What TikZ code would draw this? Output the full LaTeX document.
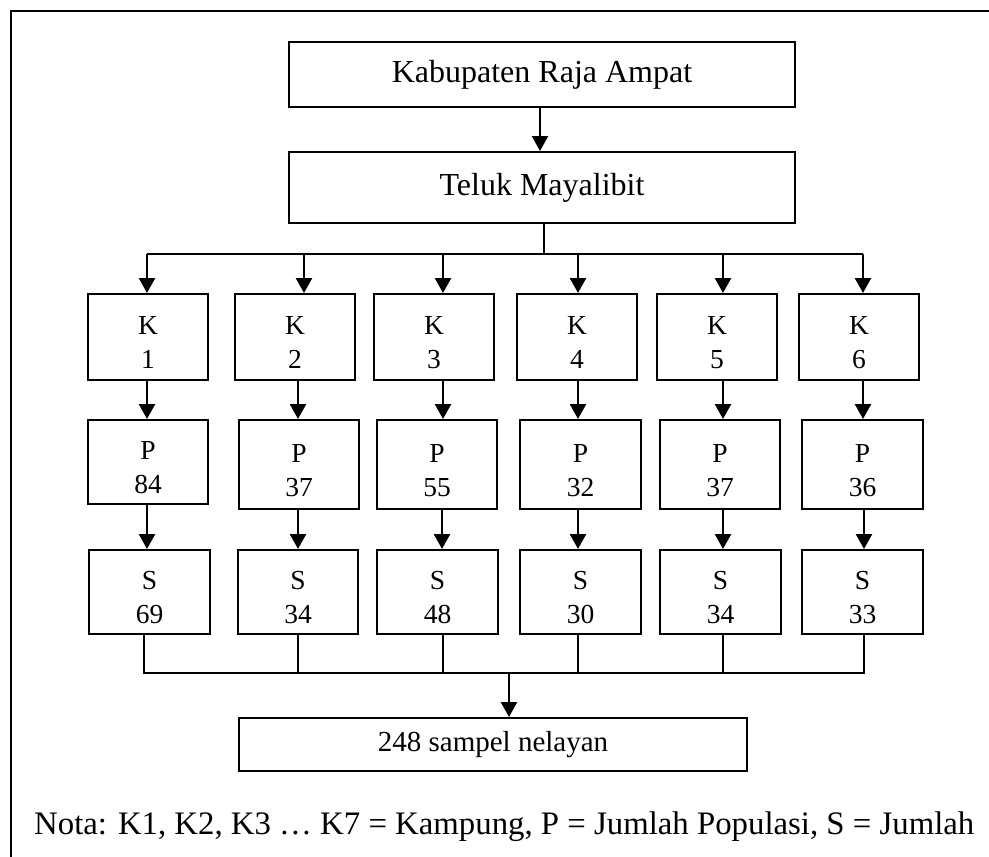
\documentclass[tikz,border=0pt]{standalone}
\usepackage{fontspec}
\setmainfont{Liberation Serif}
\usetikzlibrary{arrows.meta}
\newcommand{\twoline}[2]{\raisebox{-8pt}[\height][\depth]{\begin{tabular}{@{}c@{}}#1\\#2\end{tabular}}}
\begin{document}
\begin{tikzpicture}[x=1pt,y=-1pt,
  box/.style={draw,line width=2pt,inner sep=0pt,align=center},
  bigbox/.style={box,font=\fontsize{32}{38}\selectfont},
  colbox/.style={box,font=\fontsize{27.5}{34}\selectfont},
  arr/.style={line width=2.5pt,-{Triangle[width=16pt,length=15pt]}},
  ln/.style={line width=2.5pt},
  thin/.style={line width=1.7pt}]
\useasboundingbox (0,0) rectangle (989,857);
\draw[line width=2.6pt] (11,857) -- (11,11) -- (989,11);
% top boxes
\node[bigbox,minimum width=506pt,minimum height=65pt] (top) at (542,74.5) {Kabupaten Raja Ampat};
\node[bigbox,minimum width=506pt,minimum height=71pt] (teluk) at (542,187.5) {Teluk Mayalibit};
% K row
\node[colbox,minimum width=120pt,minimum height=86pt] (K1) at (148,337) {\twoline{K}{1}};
\node[colbox,minimum width=120pt,minimum height=86pt] (K2) at (295,337) {\twoline{K}{2}};
\node[colbox,minimum width=120pt,minimum height=86pt] (K3) at (434,337) {\twoline{K}{3}};
\node[colbox,minimum width=120pt,minimum height=86pt] (K4) at (577,337) {\twoline{K}{4}};
\node[colbox,minimum width=120pt,minimum height=86pt] (K5) at (717,337) {\twoline{K}{5}};
\node[colbox,minimum width=120pt,minimum height=86pt] (K6) at (859,337) {\twoline{K}{6}};
% P row
\node[colbox,minimum width=120pt,minimum height=84pt] (P1) at (148,462) {\twoline{P}{84}};
\node[colbox,minimum width=120pt,minimum height=89pt] (P2) at (299,464.5) {\twoline{P}{37}};
\node[colbox,minimum width=120pt,minimum height=89pt] (P3) at (437,464.5) {\twoline{P}{55}};
\node[colbox,minimum width=121pt,minimum height=89pt] (P4) at (580.5,464.5) {\twoline{P}{32}};
\node[colbox,minimum width=120pt,minimum height=89pt] (P5) at (720,464.5) {\twoline{P}{37}};
\node[colbox,minimum width=121pt,minimum height=89pt] (P6) at (862.5,464.5) {\twoline{P}{36}};
% S row
\node[colbox,minimum width=121pt,minimum height=84pt] (S1) at (149.5,592) {\twoline{S}{69}};
\node[colbox,minimum width=120pt,minimum height=84pt] (S2) at (298,592) {\twoline{S}{34}};
\node[colbox,minimum width=121pt,minimum height=84pt] (S3) at (437.5,592) {\twoline{S}{48}};
\node[colbox,minimum width=121pt,minimum height=84pt] (S4) at (580.5,592) {\twoline{S}{30}};
\node[colbox,minimum width=121pt,minimum height=84pt] (S5) at (720.5,592) {\twoline{S}{34}};
\node[colbox,minimum width=121pt,minimum height=84pt] (S6) at (862.5,592) {\twoline{S}{33}};
% sample
\node[box,font=\fontsize{29}{34}\selectfont,minimum width=508pt,minimum height=53pt] (smp) at (493,744.5) {248 sampel nelayan};
% note
\node[anchor=base west,inner sep=0pt,font=\fontsize{32.8}{38}\selectfont] (nota) at (34,834) {Nota: K1, K2, K3 … K7 = Kampung, P = Jumlah Populasi, S = Jumlah};
% column coordinates
\coordinate (t) at (540,0);
\coordinate (tb) at (544,0);
\coordinate (hl) at (0,254);
\coordinate (bl) at (0,673);
\coordinate (sa) at (509,0);
\coordinate (a1) at (147,0); \coordinate (a2) at (304,0); \coordinate (a3) at (443,0);
\coordinate (a4) at (578,0); \coordinate (a5) at (723,0); \coordinate (a6) at (863,0);
\coordinate (b2) at (298,0);
\coordinate (c3) at (442,0); \coordinate (c6) at (864,0);
\coordinate (d1) at (144,0);
% connectors
\draw[arr] (top.south -| t) -- (teluk.north -| t);
\draw[ln] (teluk.south -| tb) -- (hl -| tb);
\draw[ln] (hl -| a1) -- (hl -| a6);
\foreach \i in {1,...,6} {\draw[arr] (hl -| a\i) -- (K\i.north -| a\i);}
\draw[arr] (K1.south -| a1) -- (P1.north -| a1);
\draw[arr] (K2.south -| b2) -- (P2.north -| b2);
\draw[arr] (K3.south -| a3) -- (P3.north -| a3);
\draw[arr] (K4.south -| a4) -- (P4.north -| a4);
\draw[arr] (K5.south -| a5) -- (P5.north -| a5);
\draw[arr] (K6.south -| a6) -- (P6.north -| a6);
\draw[arr] (P1.south -| a1) -- (S1.north -| a1);
\draw[arr] (P2.south -| b2) -- (S2.north -| b2);
\draw[arr] (P3.south -| c3) -- (S3.north -| c3);
\draw[arr] (P4.south -| a4) -- (S4.north -| a4);
\draw[arr] (P5.south -| a5) -- (S5.north -| a5);
\draw[arr] (P6.south -| c6) -- (S6.north -| c6);
\draw[thin] (S1.south -| d1) -- (bl -| d1) -- (bl -| c6) -- (S6.south -| c6);
\draw[thin] (S2.south -| b2) -- (bl -| b2);
\draw[thin] (S3.south -| a3) -- (bl -| a3);
\draw[thin] (S4.south -| a4) -- (bl -| a4);
\draw[thin] (S5.south -| a5) -- (bl -| a5);
\draw[arr] (bl -| sa) -- (smp.north -| sa);
\end{tikzpicture}
\end{document}
